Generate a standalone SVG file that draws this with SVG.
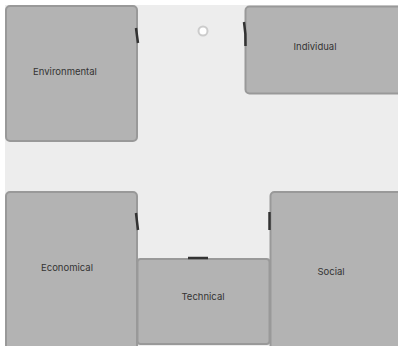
<svg xmlns="http://www.w3.org/2000/svg" width="398" height="346" viewBox="0 0 398 346">
<style>
.box{fill:#b3b3b3;stroke:#999;stroke-width:2}
.lbl{font-family:Inter,"Liberation Sans",sans-serif;font-size:9.5px;fill:#333;text-anchor:middle;dominant-baseline:central}
.cn{fill:none;stroke:#333;stroke-width:2.5;stroke-linecap:butt}
</style>
<rect x="5" y="5" width="393" height="341" fill="#ededed"/>
<g id="environmental">
<rect class="box" x="6" y="6" width="131" height="135" rx="4"/>
<text class="lbl" x="65" y="71">Environmental</text>
</g>
<g id="individual">
<rect class="box" x="245.5" y="6.5" width="160" height="87" rx="4"/>
<text class="lbl" x="315" y="46">Individual</text>
</g>
<g id="economical">
<rect class="box" x="6" y="192" width="131" height="160" rx="4"/>
<text class="lbl" x="67" y="267">Economical</text>
</g>
<g id="technical">
<rect class="box" x="137.5" y="259" width="132" height="85" rx="3"/>
<text class="lbl" x="203" y="296">Technical</text>
</g>
<g id="social">
<rect class="box" x="270.5" y="192" width="135" height="160" rx="4"/>
<text class="lbl" x="331" y="271">Social</text>
</g>
<g id="connectors">
<path class="cn" d="M136,28 Q137,36 138,43"/>
<path class="cn" d="M244,22 Q246,34 245.5,46"/>
<path class="cn" d="M136,213 Q137,222 138,230"/>
<path class="cn" d="M269.5,212 L269.5,230"/>
<path class="cn" d="M188,258 L208,258"/>
<circle cx="203" cy="31" r="4.5" fill="#fff" stroke="#ccc" stroke-width="2"/>
</g>
</svg>
